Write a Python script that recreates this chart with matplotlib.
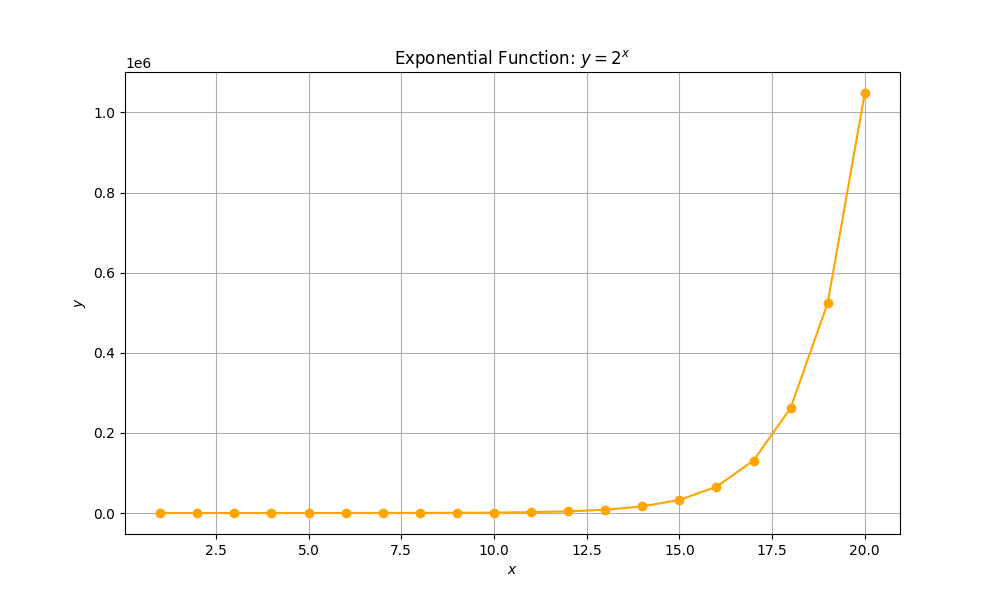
import matplotlib
matplotlib.use("Agg")
import matplotlib.pyplot as plt

x_values = [1, 2, 3, 4, 5, 6, 7, 8, 9, 10, 11, 12, 13, 14, 15, 16, 17, 18, 19, 20]
y_values = [2, 4, 8, 16, 32, 64, 128, 256, 512, 1024, 2048, 4096, 8192, 16384,
            32768, 65536, 131072, 262144, 524288, 1048576]

fig, ax = plt.subplots(figsize=(10, 6), dpi=100)
ax.plot(x_values, y_values, marker='o', color='orange')
ax.set_title('Exponential Function: $y = 2^x$')
ax.set_xlabel('$x$')
ax.set_ylabel('$y$')
ax.grid(True)
fig.savefig('out.png')
